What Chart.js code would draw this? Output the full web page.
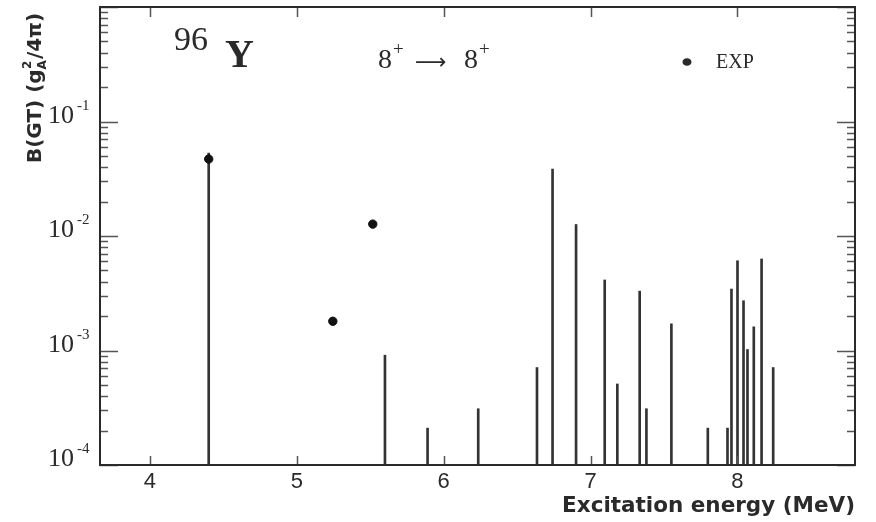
<!DOCTYPE html>
<html lang="en">
<head>
    <meta charset="UTF-8">
    <title>96Y B(GT) 8+ to 8+</title>
    <script src="https://cdn.jsdelivr.net/npm/chart.js"></script>
    <style>
        html, body { margin: 0; padding: 0; background: #fff; }
        #wrap { width: 876px; height: 522px; }
    </style>
</head>
<body>
    <div id="wrap"><canvas id="bgt-chart" width="876" height="522"></canvas></div>

    <script>
        // calculated strengths (vertical lines)
        const energies = [4.40, 5.60, 5.89, 6.235, 6.635, 6.741, 6.901, 7.096, 7.182, 7.334, 7.380,
                          7.550, 7.798, 7.932, 7.959, 8.000, 8.041, 8.068, 8.111, 8.164, 8.243];
        const bgtValues = [0.053, 0.00091, 0.00021, 0.00031, 0.00071, 0.0385, 0.0126, 0.00413, 0.00051, 0.0033, 0.00031,
                           0.00171, 0.00021, 0.00021, 0.00344, 0.00608, 0.00272, 0.00102, 0.00161, 0.0063, 0.00071];

        // experimental points
        const expEnergies = [4.40, 5.245, 5.517];
        const expValues = [0.047, 0.0018, 0.0127];

        const xTicks = [4, 5, 6, 7, 8];
        const yDecades = [-4, -3, -2, -1];
        const yFloor = 1e-4;

        const ink = '#2a2a2a';

        // frame, inward tick marks and all the extra texts
        const decorPlugin = {
            id: 'decor',
            afterDatasetsDraw(chart) {
                const ctx = chart.ctx;
                const area = chart.chartArea;
                const xs = chart.scales.x;
                const ys = chart.scales.y;
                ctx.save();

                // tick marks
                ctx.strokeStyle = '#555';
                ctx.lineWidth = 1.5;
                ctx.beginPath();
                xTicks.forEach(t => {
                    const px = Math.round(xs.getPixelForValue(t)) + 0.5;
                    ctx.moveTo(px, area.bottom); ctx.lineTo(px, area.bottom - 9);
                    ctx.moveTo(px, area.top); ctx.lineTo(px, area.top + 10);
                });
                for (let k = -4; k <= 0; k++) {
                    const py = Math.round(ys.getPixelForValue(Math.pow(10, k))) + 0.5;
                    ctx.moveTo(area.left, py); ctx.lineTo(area.left + 18, py);
                    ctx.moveTo(area.right, py); ctx.lineTo(area.right - 18, py);
                    if (k < 0) {
                        for (let m = 2; m <= 9; m++) {
                            const my = Math.round(ys.getPixelForValue(m * Math.pow(10, k))) + 0.5;
                            ctx.moveTo(area.left, my); ctx.lineTo(area.left + 8, my);
                            ctx.moveTo(area.right, my); ctx.lineTo(area.right - 8, my);
                        }
                    }
                }
                ctx.stroke();

                // frame
                ctx.strokeStyle = ink;
                ctx.lineWidth = 2;
                ctx.strokeRect(area.left, area.top, area.right - area.left, area.bottom - area.top);

                ctx.fillStyle = ink;
                ctx.textBaseline = 'alphabetic';

                // y tick labels 10^k
                yDecades.forEach(k => {
                    const py = ys.getPixelForValue(Math.pow(10, k));
                    ctx.font = '26px "Liberation Serif"';
                    ctx.textAlign = 'left';
                    ctx.fillText('10', 48, py + 1);
                    ctx.font = '15px "Liberation Serif"';
                    ctx.fillText('-' + Math.abs(k), 77, py - 12);
                });

                // nucleus label
                ctx.textAlign = 'left';
                ctx.font = '34px "Liberation Serif"';
                ctx.fillText('96', 174, 50);
                ctx.font = 'bold 40px "Liberation Serif"';
                ctx.fillText('Y', 225, 67);

                // transition label
                ctx.font = '28px "Liberation Serif"';
                ctx.fillText('8', 378, 68);
                ctx.fillText('8', 464, 68);
                ctx.font = '19px "Liberation Serif"';
                ctx.fillText('+', 393, 55);
                ctx.fillText('+', 479, 55);
                ctx.font = '22px "DejaVu Sans"';
                ctx.fillText('\u27f6', 415, 69);

                // legend
                ctx.beginPath();
                ctx.ellipse(687, 62, 4.5, 3.8, 0, 0, Math.PI * 2);
                ctx.fill();
                ctx.font = '20px "Liberation Serif"';
                ctx.fillText('EXP', 716, 68);

                // x title
                ctx.font = 'bold 21.5px "DejaVu Sans"';
                ctx.textAlign = 'right';
                ctx.fillText('Excitation energy (MeV)', area.right, 512);

                // y title, rotated
                ctx.translate(41, 88);
                ctx.rotate(-Math.PI / 2);
                const big = 'bold 20px "DejaVu Sans"';
                const small = 'bold 12px "DejaVu Sans"';
                ctx.font = big;
                const p1 = 'B(GT) (g';
                const p2 = '/4\u03c0)';
                const w1 = ctx.measureText(p1).width;
                const w3 = ctx.measureText(p2).width;
                ctx.font = small;
                const w2 = ctx.measureText('A').width;
                const total = w1 + w2 + 1 + w3;
                let cx = -total / 2;
                ctx.textAlign = 'left';
                ctx.font = big;
                ctx.fillText(p1, cx, 0);
                cx += w1;
                ctx.font = small;
                ctx.fillText('2', cx + 0.5, -10);
                ctx.fillText('A', cx, 5);
                cx += w2 + 1;
                ctx.font = big;
                ctx.fillText(p2, cx, 0);

                ctx.restore();
            }
        };

        const ctx = document.getElementById('bgt-chart').getContext('2d');
        new Chart(ctx, {
            type: 'bar',
            data: {
                datasets: [{
                    type: 'bar',
                    label: 'Theory',
                    data: energies.map((e, i) => ({ x: e, y: [yFloor, bgtValues[i]] })),
                    backgroundColor: '#333',
                    borderWidth: 0,
                    barThickness: 2,
                    grouped: false,
                    order: 2
                }, {
                    type: 'scatter',
                    label: 'EXP',
                    data: expEnergies.map((e, i) => ({ x: e, y: expValues[i] })),
                    backgroundColor: '#111',
                    borderColor: '#111',
                    pointRadius: 4.2,
                    pointStyle: 'circle',
                    showLine: false,
                    order: 1
                }]
            },
            options: {
                responsive: false,
                animation: false,
                layout: { padding: { top: 7, right: 21, left: 0, bottom: 0 } },
                plugins: {
                    legend: { display: false },
                    tooltip: { enabled: false }
                },
                scales: {
                    x: {
                        type: 'linear',
                        min: 3.66,
                        max: 8.8,
                        offset: false,
                        grid: { display: false, drawTicks: false },
                        border: { display: false },
                        ticks: {
                            stepSize: 1,
                            includeBounds: false,
                            padding: 4,
                            color: ink,
                            font: { family: '"Liberation Sans"', size: 22 }
                        },
                        afterFit: s => { s.height = 57; }
                    },
                    y: {
                        type: 'logarithmic',
                        min: 1e-4,
                        max: 1,
                        grid: { display: false, drawTicks: false },
                        border: { display: false },
                        ticks: { display: false },
                        afterFit: s => { s.width = 100; }
                    }
                }
            },
            plugins: [decorPlugin]
        });
    </script>
</body>
</html>
